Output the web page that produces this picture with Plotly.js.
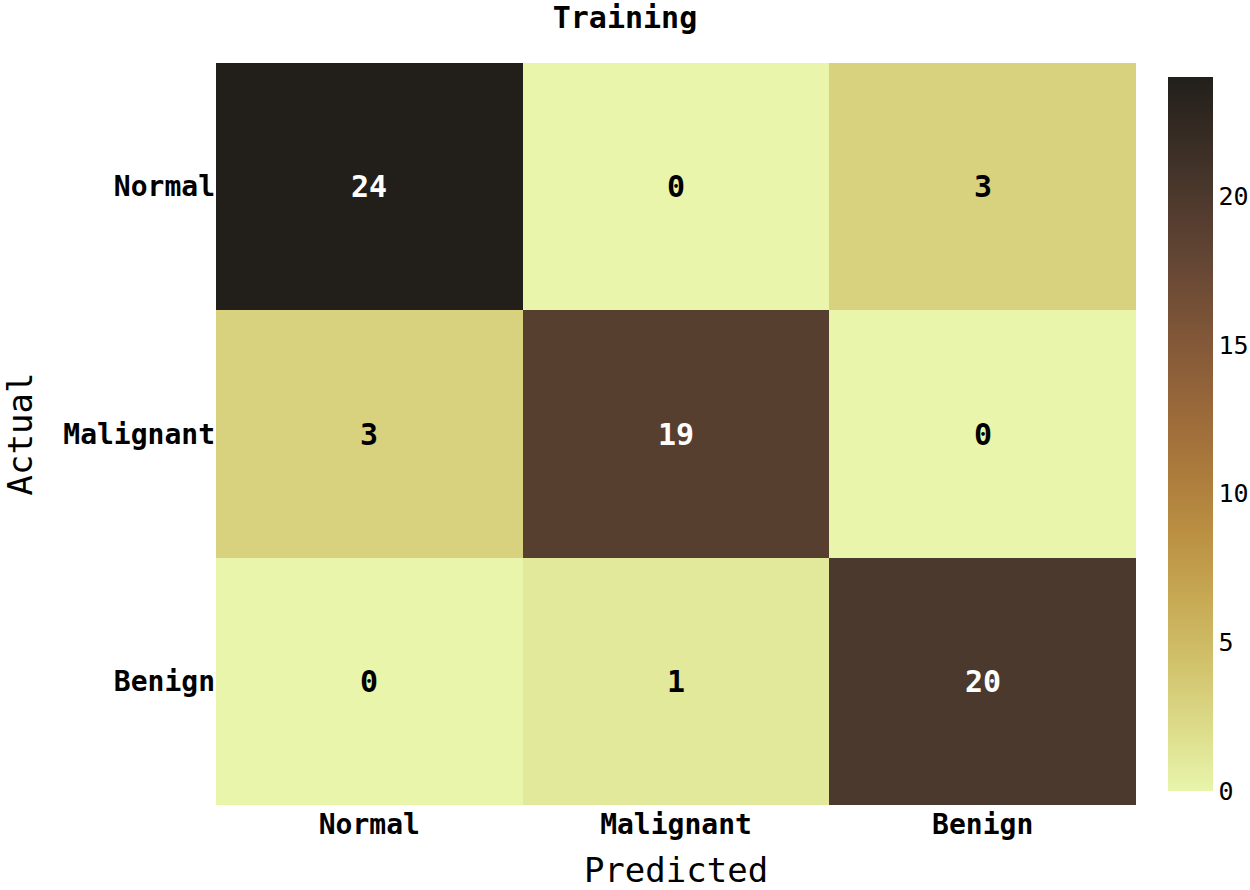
<!DOCTYPE html>
<html>
<head>
<meta charset="utf-8">
<script src="https://cdn.plot.ly/plotly-3.0.1.min.js"></script>
<style>
  body { margin: 0; background: #fff; }
  #chart { width: 1250px; height: 890px; }
</style>
</head>
<body>
<div id="chart"></div>
<script>
// confusion matrix, rows = actual, cols = predicted
const predictedLabels = ['Normal', 'Malignant', 'Benign'];
const actualLabels = ['Normal', 'Malignant', 'Benign'];
const rowNormal = [24, 0, 3];
const rowMalignant = [3, 19, 0];
const rowBenign = [0, 1, 20];

// cmocean "turbid"
const turbid = [
    'rgb(232, 245, 171)', 'rgb(220, 219, 137)', 'rgb(209, 193, 107)',
    'rgb(199, 168, 83)', 'rgb(186, 143, 66)', 'rgb(170, 121, 60)',
    'rgb(151, 103, 58)', 'rgb(129, 87, 56)', 'rgb(104, 72, 53)',
    'rgb(80, 59, 46)', 'rgb(57, 45, 37)', 'rgb(34, 31, 27)'
];
const colorscale = turbid.map((c, i) => [i / (turbid.length - 1), c]);

const mono = 'DejaVu Sans Mono, Liberation Mono, monospace';
const z = [rowNormal, rowMalignant, rowBenign];
const zmax = 24;

// cell labels: white on dark cells, black on light ones
const cellLabels = [];
z.forEach((row, i) => {
    row.forEach((v, j) => {
        cellLabels.push({
            x: predictedLabels[j],
            y: actualLabels[i],
            text: '<b>' + v + '</b>',
            showarrow: false,
            font: { family: mono, size: 30, color: v > zmax / 2 ? '#fff' : '#000' }
        });
    });
});

const trace = {
    type: 'heatmap',
    x: predictedLabels,
    y: actualLabels,
    z: z,
    zmin: 0,
    zmax: zmax,
    colorscale: colorscale,
    hoverinfo: 'z',
    colorbar: {
        thickness: 45,
        len: 0.962,
        lenmode: 'fraction',
        x: 1.0348,
        xanchor: 'left',
        xpad: 0,
        y: 0.5,
        yanchor: 'middle',
        ypad: 0,
        outlinewidth: 0,
        tickvals: [0, 5, 10, 15, 20],
        ticks: '',
        tickfont: { family: mono, size: 25, color: '#000' }
    }
};

const layout = {
    width: 1250,
    height: 890,
    margin: { l: 216, r: 114, t: 63, b: 85, autoexpand: false },
    paper_bgcolor: '#fff',
    plot_bgcolor: '#fff',
    font: { family: mono, color: '#000' },
    title: {
        text: 'Training',
        font: { family: mono, size: 30, weight: 'bold', color: '#000' },
        x: 0.5,
        xanchor: 'center',
        y: 0.98,
        yanchor: 'middle'
    },
    xaxis: {
        title: { text: 'Predicted', font: { family: mono, size: 34 }, standoff: 22 },
        tickfont: { family: mono, size: 28, weight: 'bold' },
        showgrid: false,
        zeroline: false,
        ticks: ''
    },
    yaxis: {
        title: { text: 'Actual', font: { family: mono, size: 34 }, standoff: 24 },
        tickfont: { family: mono, size: 28, weight: 'bold' },
        autorange: 'reversed',
        showgrid: false,
        zeroline: false,
        ticks: ''
    },
    annotations: cellLabels
};

Plotly.newPlot('chart', [trace], layout, { displayModeBar: false });
</script>
</body>
</html>
